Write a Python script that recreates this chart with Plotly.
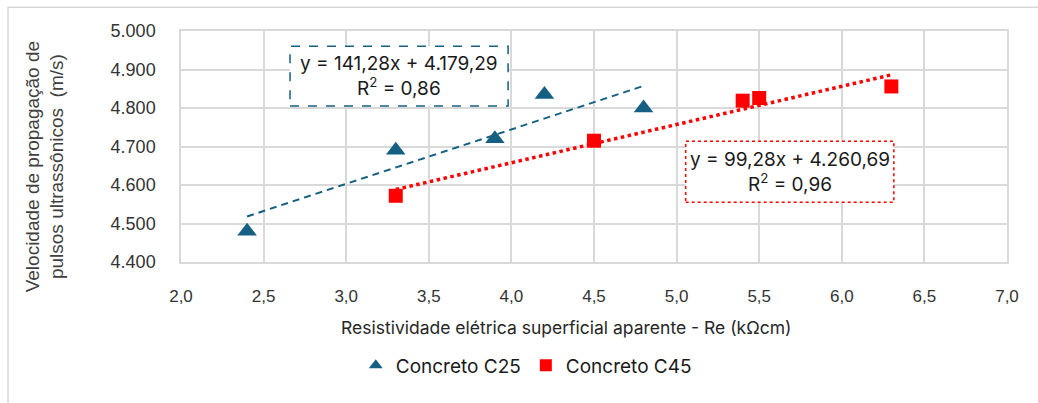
import plotly.graph_objects as go

# Resistividade (kΩcm) e velocidade de pulso ultrassônico (m/s)
c25_x = [2.4, 3.3, 3.9, 4.2, 4.8]
c25_y = [4480, 4690, 4720, 4835, 4800]
c45_x = [3.3, 4.5, 5.4, 5.5, 6.3]
c45_y = [4572, 4715, 4819, 4826, 4856]

# Linhas de tendência lineares (coeficientes das equações exibidas)
c25_slope, c25_intercept, c25_r2 = 141.28, 4179.29, 0.86
c45_slope, c45_intercept, c45_r2 = 99.28, 4260.69, 0.96

x_ticks = [2.0, 2.5, 3.0, 3.5, 4.0, 4.5, 5.0, 5.5, 6.0, 6.5, 7.0]
y_ticks = [4400, 4500, 4600, 4700, 4800, 4900, 5000]

BLUE = "#156082"
RED = "#FF0000"
GRID = "#d9d9d9"
TICK_FONT = "Liberation Sans, Arial, sans-serif"
TEXT_FONT = "Inter, Open Sans, sans-serif"


def fmt_br(v, decimals=2):
    s = f"{v:,.{decimals}f}"
    return s.replace(",", "X").replace(".", ",").replace("X", ".")


def trend(xs, slope, intercept):
    x0, x1 = min(xs), max(xs)
    return [x0, x1], [slope * x0 + intercept, slope * x1 + intercept]


fig = go.Figure()

tx, ty = trend(c25_x, c25_slope, c25_intercept)
fig.add_trace(go.Scatter(x=tx, y=ty, mode="lines", showlegend=False,
                         line=dict(color=BLUE, width=2, dash="7px,5px"),
                         hoverinfo="skip"))
tx, ty = trend(c45_x, c45_slope, c45_intercept)
fig.add_trace(go.Scatter(x=tx, y=ty, mode="lines", showlegend=False,
                         line=dict(color=RED, width=3.5, dash="dot"),
                         hoverinfo="skip"))

fig.add_trace(go.Scatter(x=c25_x, y=c25_y, mode="markers", name="Concreto C25",
                         marker=dict(symbol="triangle-up", size=17, color=BLUE)))
fig.add_trace(go.Scatter(x=c45_x, y=c45_y, mode="markers", name="Concreto C45",
                         marker=dict(symbol="square", size=14, color=RED)))

# Caixas das equações das linhas de tendência
boxes = [
    (0.132, 0.396, 0.675, 0.934, BLUE, "dash", c25_slope, c25_intercept, c25_r2),
    (0.611, 0.863, 0.259, 0.523, RED, "dot", c45_slope, c45_intercept, c45_r2),
]
for x0, x1, y0, y1, col, dash, s, b, r2 in boxes:
    fig.add_shape(type="rect", xref="paper", yref="paper", x0=x0, x1=x1, y0=y0, y1=y1,
                  line=dict(color=col, width=1.5, dash=dash), fillcolor="white", layer="above")
    fig.add_annotation(xref="paper", yref="paper", x=(x0 + x1) / 2, y=(y0 + y1) / 2,
                       xanchor="center", yanchor="middle",
                       text=f"y = {fmt_br(s)}x + {fmt_br(b)}<br>R<sup>2</sup> = {fmt_br(r2)}",
                       showarrow=False, align="center",
                       font=dict(family=TEXT_FONT, size=19, color="#1a1a1a"))

# Títulos dos eixos
fig.add_annotation(xref="paper", yref="paper", x=0.4655, y=-0.283,
                   xanchor="center", yanchor="middle",
                   text="Resistividade elétrica superficial aparente - Re (kΩcm)",
                   showarrow=False, font=dict(family=TEXT_FONT, size=17.5, color="#262626"))
fig.add_annotation(xref="paper", yref="paper", x=-0.1646, y=0.41, textangle=-90,
                   xanchor="center", yanchor="middle",
                   text="Velocidade de propagação de<br>pulsos ultrassônicos  (m/s)",
                   showarrow=False, font=dict(family=TICK_FONT, size=19, color="#404040"))

# Moldura externa do gráfico
fig.add_shape(type="rect", xref="paper", yref="paper", x0=-0.2094, x1=1.2, y0=-0.7, y1=1.1028,
              line=dict(color=GRID, width=1.5), layer="below")

fig.update_layout(
    width=1038, height=403,
    margin=dict(l=181, r=31, t=31, b=141),
    paper_bgcolor="white", plot_bgcolor="white",
    separators=",.",
    showlegend=True,
    legend=dict(orientation="h", x=0.418, xanchor="center", y=-0.448, yanchor="middle",
                font=dict(family=TEXT_FONT, size=19, color="#1a1a1a"),
                itemsizing="constant", tracegroupgap=0, itemwidth=30),
    xaxis=dict(range=[2.0, 7.0], tickvals=x_ticks, tickformat=".1f",
               showgrid=True, gridcolor=GRID, gridwidth=1.5,
               showline=True, mirror=True, linecolor=GRID, linewidth=1.5,
               zeroline=False, ticks="", ticklabelstandoff=18,
               tickfont=dict(family=TICK_FONT, size=17, color="#333333")),
    yaxis=dict(range=[4400, 5000], tickvals=y_ticks, tickformat=",.0f",
               showgrid=True, gridcolor=GRID, gridwidth=1.5,
               showline=True, mirror=True, linecolor=GRID, linewidth=1.5,
               zeroline=False, ticks="", ticklabelstandoff=20,
               tickfont=dict(family=TICK_FONT, size=18, color="#333333")),
)

fig.write_html("out.html")
